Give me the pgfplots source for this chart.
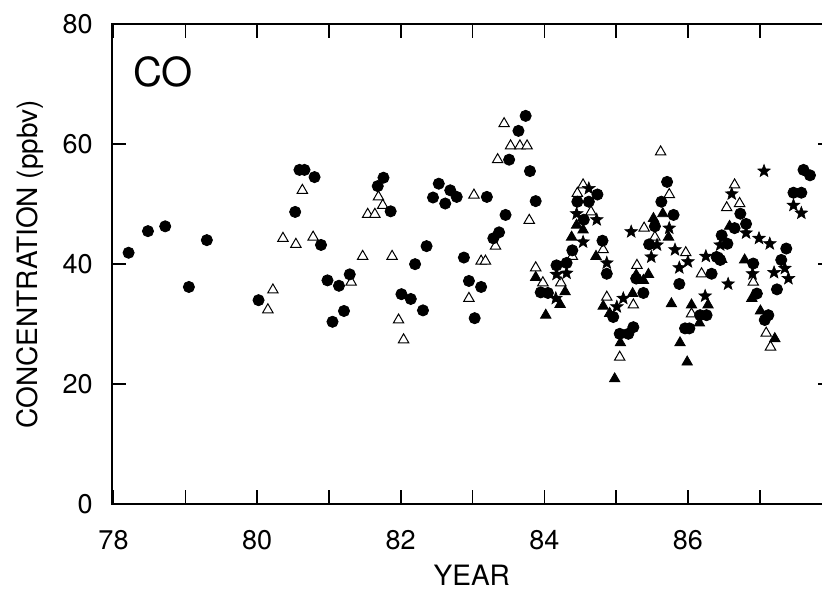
\documentclass[border=0pt]{standalone}
\usepackage{pgfplots}
\pgfplotsset{compat=1.18}
\usepackage{fontspec}
\setmainfont{TeX Gyre Heros}
\pgfdeclareplotmark{fstar}{%
 \pgfpathmoveto{\pgfpointpolar{90}{\pgfplotmarksize}}%
 \pgfpathlineto{\pgfpointpolar{126}{0.42\pgfplotmarksize}}%
 \pgfpathlineto{\pgfpointpolar{162}{\pgfplotmarksize}}%
 \pgfpathlineto{\pgfpointpolar{198}{0.42\pgfplotmarksize}}%
 \pgfpathlineto{\pgfpointpolar{234}{\pgfplotmarksize}}%
 \pgfpathlineto{\pgfpointpolar{270}{0.42\pgfplotmarksize}}%
 \pgfpathlineto{\pgfpointpolar{306}{\pgfplotmarksize}}%
 \pgfpathlineto{\pgfpointpolar{342}{0.42\pgfplotmarksize}}%
 \pgfpathlineto{\pgfpointpolar{18}{\pgfplotmarksize}}%
 \pgfpathlineto{\pgfpointpolar{54}{0.42\pgfplotmarksize}}%
 \pgfpathclose
 \pgfusepathqfillstroke}
\begin{document}
\begin{tikzpicture}
\begin{axis}[
 width=359.5pt, height=240pt, scale only axis,
 xmin=77.98, xmax=88, ymin=0, ymax=80,
 xtick={78,79,...,87}, xticklabels={78,,80,,82,,84,,86,},
 ytick={0,20,40,60,80},
 tick align=inside, major tick length=7pt,
 tick style={black, line width=0.8pt},
 axis line style={line width=0.9pt},
 /pgf/number format/assume math mode=true,
 ticklabel style={font=\fontsize{13.5}{16}\selectfont},
 xticklabel style={anchor=north, inner sep=0pt, yshift=-13pt},
 yticklabel style={anchor=east, inner sep=0pt, xshift=-9.5pt},
 label style={font=\fontsize{14}{17}\selectfont},
 xlabel={YEAR}, ylabel={CONCENTRATION (ppbv)},
 xlabel style={at={(axis description cs:0.5,-0.148)}, anchor=center},
 ylabel style={at={(axis description cs:-0.114,0.5)}, anchor=center},
 clip=false,
]
% open triangles
\addplot[only marks, mark=triangle*, mark size=3pt, mark options={fill=white, draw=black, line width=0.5pt}] table {
x y
80.36 44.3
80.54 43.3
80.22 35.7
80.15 32.4
80.63 52.3
80.78 44.5
81.31 37.0
81.47 41.3
81.88 41.3
81.69 51.2
81.75 49.8
81.54 48.3
81.64 48.3
81.97 30.7
82.04 27.4
83.02 51.5
83.12 40.5
83.18 40.5
82.95 34.3
83.32 43.0
83.44 63.4
83.53 59.7
83.66 59.7
83.76 59.7
83.35 57.4
83.79 47.3
83.88 39.4
83.98 36.9
84.23 36.9
84.39 41.3
84.54 53.2
84.46 51.8
84.65 48.7
84.82 42.4
84.87 34.5
85.05 24.5
85.24 33.2
85.29 39.8
85.39 46.0
85.54 44.5
85.62 58.7
85.74 51.6
85.97 41.9
86.19 38.4
86.05 31.7
86.65 53.2
86.72 50.1
86.54 49.4
86.91 37.0
87.09 28.5
87.15 26.2
};
% filled circles
\addplot[only marks, mark=*, mark size=2.8pt, mark options={fill=black, draw=black}] table {
x y
78.21 41.9
78.48 45.5
78.72 46.3
79.05 36.2
79.30 44.0
80.02 34.0
80.53 48.7
80.59 55.7
80.66 55.7
80.80 54.5
80.89 43.2
80.98 37.3
81.14 36.4
81.29 38.3
81.21 32.2
81.05 30.4
81.76 54.4
81.68 53.0
81.86 48.8
82.01 35.0
82.14 34.2
82.31 32.3
82.20 40.0
82.36 43.0
82.53 53.4
82.69 52.3
82.45 51.1
82.62 50.1
82.78 51.2
83.20 51.2
83.74 64.7
83.64 62.2
83.51 57.4
83.80 55.5
83.88 50.5
83.46 48.2
83.37 45.3
83.29 44.3
82.88 41.1
82.95 37.2
83.12 36.2
83.03 31.0
83.95 35.3
84.05 35.2
84.17 39.8
84.31 40.2
84.39 42.3
84.46 50.4
84.62 50.4
84.74 51.6
84.55 47.4
84.81 43.9
84.87 38.4
84.96 31.2
85.05 28.4
85.17 28.4
85.24 29.5
85.28 37.6
85.38 35.2
85.46 43.3
85.54 46.3
85.63 50.4
85.71 53.7
85.80 48.2
85.88 36.7
85.96 29.3
86.02 29.3
86.17 31.5
86.26 31.5
86.40 41.2
86.33 38.4
86.45 40.7
86.47 44.8
86.55 43.4
86.65 46.0
86.73 48.4
86.81 46.7
86.91 40.1
86.96 35.1
87.12 31.5
87.07 30.7
87.24 35.8
87.30 40.7
87.37 42.6
87.47 51.9
87.58 51.9
87.61 55.7
87.70 54.8
};
% filled triangles
\addplot[only marks, mark=triangle*, mark size=3pt, mark options={fill=black, draw=black}] table {
x y
83.88 37.8
84.02 31.5
84.29 35.4
84.22 33.3
84.45 46.5
84.54 45.7
84.38 44.5
84.72 41.3
84.82 33.0
84.91 31.8
84.98 20.9
85.06 26.9
85.23 35.1
85.28 38.2
85.45 38.3
85.52 47.6
85.65 48.4
85.73 44.5
85.38 37.3
85.77 33.4
86.05 33.2
86.28 33.2
86.16 30.2
85.89 26.9
85.99 23.7
86.58 46.3
86.47 40.8
86.79 40.7
86.89 34.3
87.01 32.2
87.21 27.6
};
% stars
\addplot[only marks, mark=fstar, mark size=3.3pt, mark options={fill=black, draw=black, line width=0.3pt}] table {
x y
84.62 52.6
84.45 48.4
84.73 47.4
84.54 43.7
84.87 40.2
84.17 38.3
84.31 38.5
84.16 34.3
85.01 32.9
85.10 34.3
85.21 45.4
85.57 43.2
85.49 41.2
85.74 46.0
85.82 42.4
85.88 39.4
86.00 40.4
86.24 34.7
86.25 41.3
86.61 51.7
86.81 45.2
86.99 44.3
87.14 43.4
86.90 38.4
87.20 38.6
86.56 36.7
87.40 37.6
87.35 39.3
87.06 55.5
87.47 49.8
87.58 48.5
86.45 43.2
};
\node[font=\fontsize{20}{24}\selectfont] at (rel axis cs:0.071,0.9) {CO};
\end{axis}
\pgfresetboundingbox
\path[use as bounding box] ([xshift=-56pt,yshift=-42.5pt]current axis.south west) rectangle ([xshift=-4.75pt,yshift=12pt]current axis.north east);
\end{tikzpicture}
\end{document}
